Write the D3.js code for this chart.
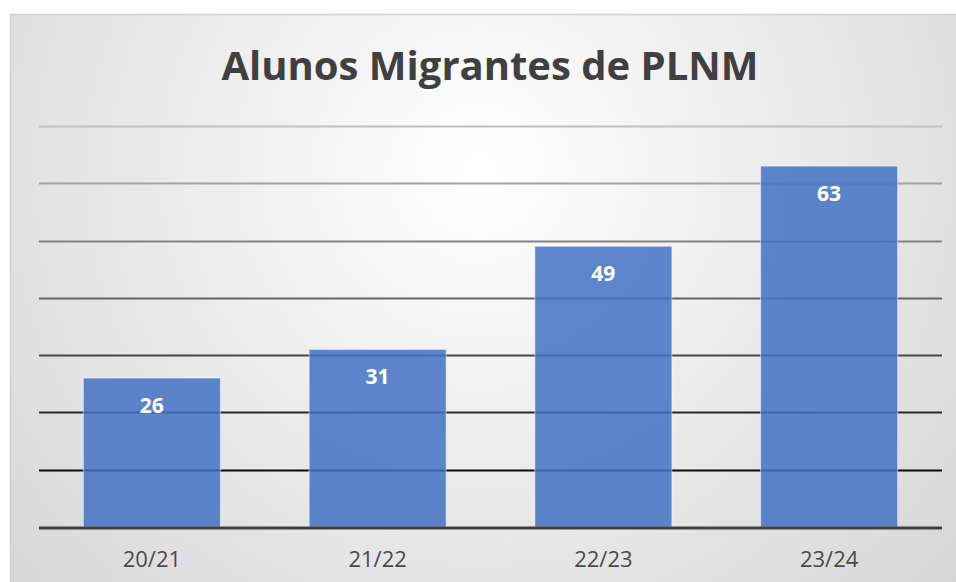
<!DOCTYPE html>
<html>
<head>
<meta charset="utf-8">
<script src="https://cdn.jsdelivr.net/npm/d3@7"></script>
<style>
  html, body { margin: 0; padding: 0; background: #fff; overflow: hidden; }
  svg { display: block; }
</style>
</head>
<body>
<div id="chart"></div>
<script>
// data
const years = ["20/21", "21/22", "22/23", "23/24"];
const alunos = [26, 31, 49, 63];
const gridTicks = [10, 20, 30, 40, 50, 60, 70];
const chartTitle = "Alunos Migrantes de PLNM";

const svgWidth = 956, svgHeight = 582;
const margin = {top: 126, right: 14, bottom: 55, left: 39};

const svg = d3.select("#chart").append("svg")
  .attr("width", svgWidth)
  .attr("height", svgHeight);

// background gradient
let defs = svg.append("defs");
let grad = defs.append("radialGradient")
  .attr("id", "bg")
  .attr("gradientUnits", "userSpaceOnUse")
  .attr("cx", 480).attr("cy", 170).attr("r", 700);
grad.append("stop").attr("offset", "0%").attr("stop-color", "#ffffff");
grad.append("stop").attr("offset", "100%").attr("stop-color", "#d2d2d2");

svg.append("rect")
  .attr("x", 10.5).attr("y", 14.5)
  .attr("width", 960).attr("height", 600)
  .attr("fill", "url(#bg)")
  .attr("stroke", "#cfcfcf")
  .attr("stroke-width", 1.5);

let xScale = d3.scaleBand()
  .domain(years)
  .range([margin.left, svgWidth - margin.right])
  .paddingInner(0.393)
  .paddingOuter(0.1965);

let yScale = d3.scaleLinear()
  .domain([0, 70])
  .range([svgHeight - margin.bottom, margin.top]);

// gridlines get darker toward the bottom
let gridColor = d3.scaleLinear().domain([10, 70]).range(["#0a0a0a", "#c0c0c0"]);

svg.append("g").selectAll("line")
  .data(gridTicks)
  .enter().append("line")
  .attr("x1", margin.left)
  .attr("x2", svgWidth - margin.right)
  .attr("y1", d => Math.round(yScale(d)) + 0.5)
  .attr("y2", d => Math.round(yScale(d)) + 0.5)
  .attr("stroke", d => gridColor(d))
  .attr("stroke-width", 2);

// bars
svg.append("g").selectAll("rect")
  .data(alunos)
  .enter().append("rect")
  .attr("x", (d, i) => xScale(years[i]))
  .attr("y", d => yScale(d))
  .attr("width", xScale.bandwidth())
  .attr("height", d => yScale(0) - yScale(d))
  .attr("fill", "#4472c4")
  .attr("fill-opacity", 0.86)
  .attr("stroke", "#ffffff")
  .attr("stroke-opacity", 0.5)
  .attr("stroke-width", 1);

// baseline
svg.append("line")
  .attr("x1", margin.left)
  .attr("x2", svgWidth - margin.right)
  .attr("y1", yScale(0) + 1)
  .attr("y2", yScale(0) + 1)
  .attr("stroke", "#404040")
  .attr("stroke-width", 3);

// value labels
svg.append("g").selectAll("text")
  .data(alunos)
  .enter().append("text")
  .attr("x", (d, i) => xScale(years[i]) + xScale.bandwidth() / 2)
  .attr("y", d => yScale(d) + 35)
  .attr("text-anchor", "middle")
  .attr("font-family", "'Open Sans', sans-serif")
  .attr("font-weight", "bold")
  .attr("font-size", 21)
  .attr("fill", "#ffffff")
  .text(d => d);

// x axis labels
let xAxis = d3.axisBottom(xScale).tickSize(0).tickPadding(0);
let xg = svg.append("g")
  .attr("transform", "translate(0," + 567 + ")")
  .call(xAxis);
xg.select(".domain").remove();
xg.selectAll("text")
  .attr("dy", 0)
  .attr("font-family", "'Open Sans', sans-serif")
  .attr("font-size", 22)
  .attr("fill", "#4a4a4a");

// title
svg.append("text")
  .attr("x", 490)
  .attr("y", 80)
  .attr("text-anchor", "middle")
  .attr("font-family", "'Open Sans', sans-serif")
  .attr("font-weight", "bold")
  .attr("font-size", 40)
  .attr("fill", "#404040")
  .text(chartTitle);
</script>
</body>
</html>
